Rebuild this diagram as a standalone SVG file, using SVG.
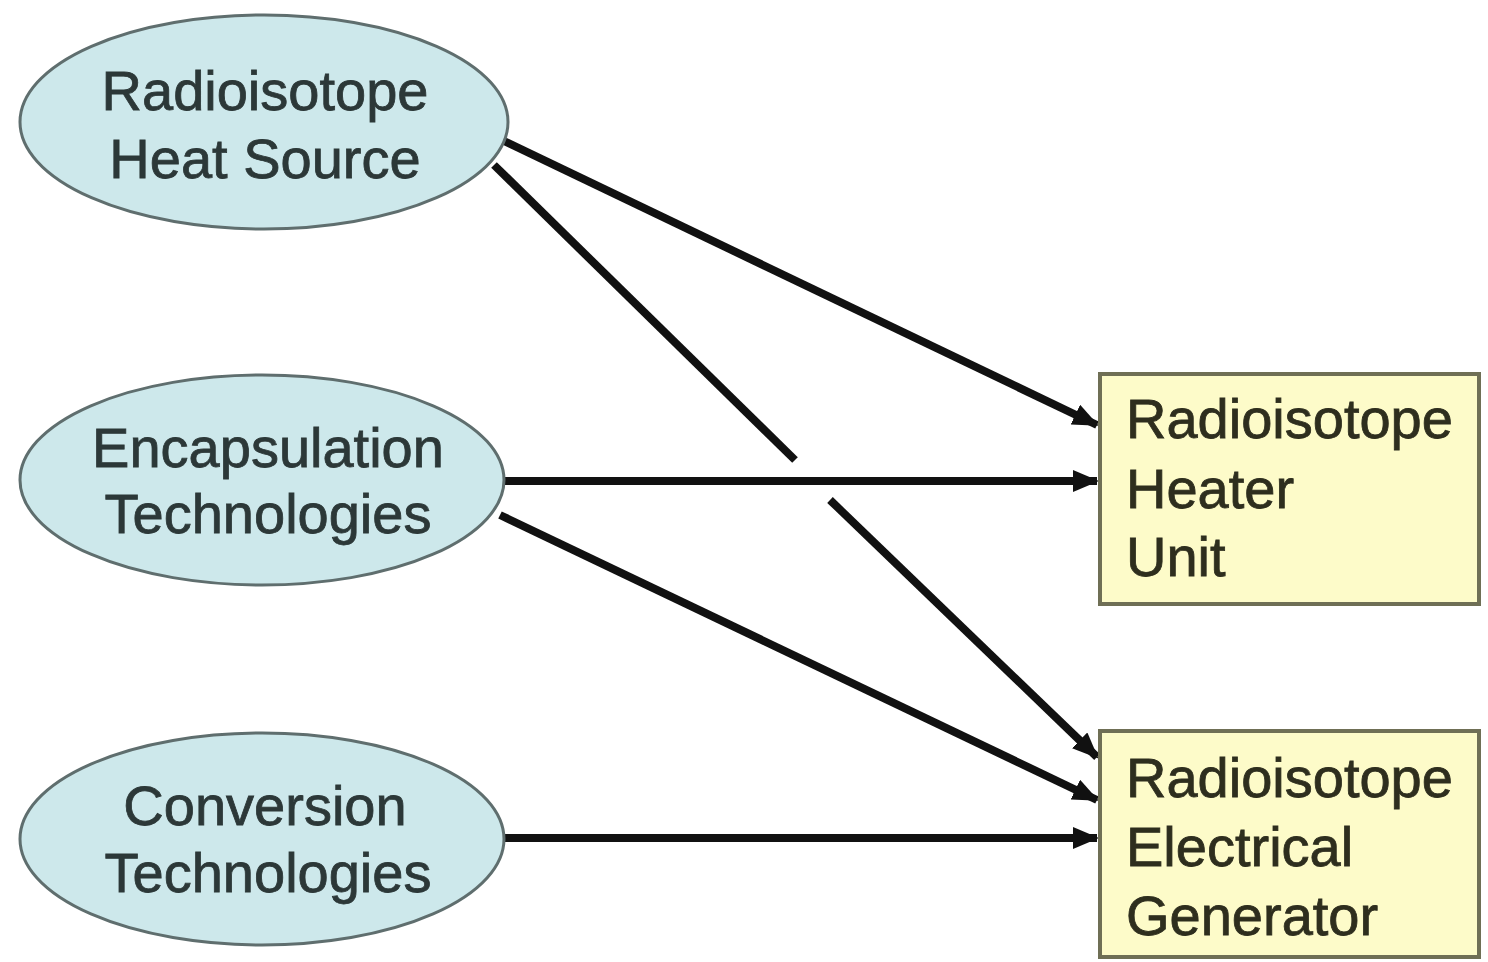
<svg xmlns="http://www.w3.org/2000/svg" width="1488" height="962" viewBox="0 0 1488 962">
<style>
.ell{fill:#cde8eb;stroke:#5f6e6e;stroke-width:3}
.box{fill:#fdfbc9;stroke:#6f6f55;stroke-width:4}
.et{font-family:"Liberation Sans",Arial,sans-serif;font-size:56px;fill:#2c3838;stroke:#2c3838;stroke-width:0.8;text-anchor:middle}
.bt{font-family:"Liberation Sans",Arial,sans-serif;font-size:56px;fill:#2e2e1e;stroke:#2e2e1e;stroke-width:0.8}
.cn{stroke:#111;stroke-width:8;fill:none}
</style>
<defs>
<marker id="ah" markerUnits="userSpaceOnUse" markerWidth="26" markerHeight="22" refX="24" refY="11" orient="auto">
<path d="M0,0 L26,11 L0,22 z" fill="#111"/>
</marker>
</defs>
<rect width="1488" height="962" fill="#fff"/>
<g id="connectors">
<line class="cn" x1="504" y1="141" x2="1097" y2="425" marker-end="url(#ah)"/>
<line class="cn" x1="494" y1="165" x2="795" y2="460"/>
<line class="cn" x1="830" y1="500" x2="1097" y2="757" marker-end="url(#ah)"/>
<line class="cn" x1="504" y1="481" x2="1097" y2="481" marker-end="url(#ah)"/>
<line class="cn" x1="500" y1="515" x2="1097" y2="800" marker-end="url(#ah)"/>
<line class="cn" x1="504" y1="838" x2="1097" y2="838" marker-end="url(#ah)"/>
</g>
<g id="heat-source">
<ellipse class="ell" cx="264" cy="122" rx="244" ry="107"/>
<text class="et" x="265" y="110">Radioisotope</text>
<text class="et" x="265" y="178">Heat Source</text>
</g>
<g id="encapsulation">
<ellipse class="ell" cx="262" cy="480" rx="242" ry="105"/>
<text class="et" x="268" y="467">Encapsulation</text>
<text class="et" x="268" y="533">Technologies</text>
</g>
<g id="conversion">
<ellipse class="ell" cx="262" cy="839" rx="242" ry="106"/>
<text class="et" x="265" y="825">Conversion</text>
<text class="et" x="268" y="892">Technologies</text>
</g>
<g id="rhu">
<rect class="box" x="1100" y="374" width="379" height="230"/>
<text class="bt" x="1126" y="438">Radioisotope</text>
<text class="bt" x="1126" y="508">Heater</text>
<text class="bt" x="1126" y="576">Unit</text>
</g>
<g id="rtg">
<rect class="box" x="1100" y="731" width="379" height="226"/>
<text class="bt" x="1126" y="797">Radioisotope</text>
<text class="bt" x="1126" y="866">Electrical</text>
<text class="bt" x="1126" y="935">Generator</text>
</g>
</svg>
